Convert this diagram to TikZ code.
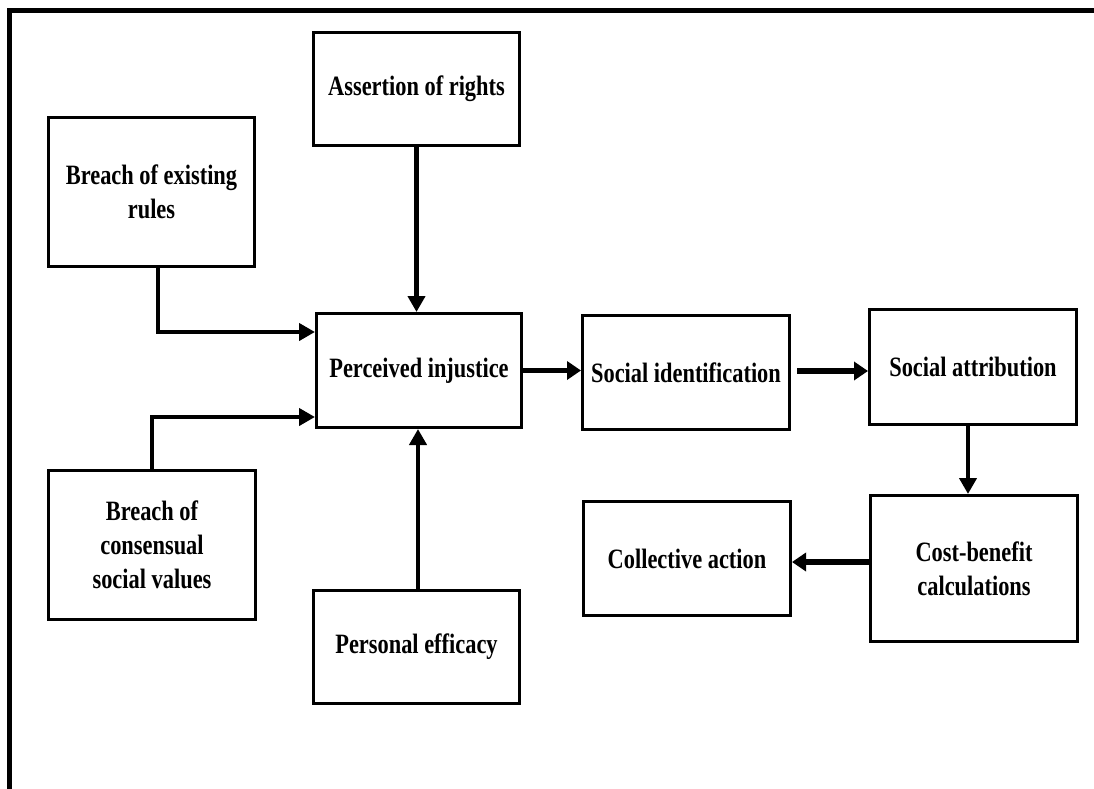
\documentclass[tikz,border=0pt]{standalone}
\usepackage{fontspec}
\setmainfont{Liberation Serif}[FakeStretch=0.8]
\usetikzlibrary{arrows.meta}

\tikzset{
  box/.style={draw=black, line width=3pt, rectangle, align=center,
    inner sep=0pt, font=\bfseries\fontsize{28}{34}\selectfont},
  thinarr/.style={draw=black, line width=4.5pt,
    -{Triangle[length=16pt,width=17pt]}},
  thickarr/.style={draw=black, line width=5.5pt,
    -{Triangle[length=14pt,width=18pt]}},
  frame/.style={draw=black, line width=5.5pt, line join=miter}
}

\begin{document}
\begin{tikzpicture}[x=1pt,y=-1pt]
  \useasboundingbox (0,0) rectangle (1094,789);

  % outer frame: top and left edges
  \draw[frame] (1094,10.5) -- (9.5,10.5) -- (9.5,789);

  % boxes
  \node[box, minimum width=206pt, minimum height=149pt] (rules) at (151.5,192)
    {Breach of existing\\rules};
  \node[box, minimum width=206pt, minimum height=113pt] (rights) at (416.5,89)
    {Assertion of rights};
  \node[box, minimum width=205pt, minimum height=114pt] (injustice) at (419,370.5)
    {Perceived injustice};
  \node[box, minimum width=207pt, minimum height=149pt] (values) at (152,545)
    {Breach of\\consensual\\social values};
  \node[box, minimum width=206pt, minimum height=113pt] (efficacy) at (416.5,647)
    {Personal efficacy};
  \node[box, minimum width=207pt, minimum height=114pt] (identification) at (686,372.5)
    {Social identification};
  \node[box, minimum width=207pt, minimum height=115pt] (attribution) at (973,367)
    {Social attribution};
  \node[box, minimum width=207pt, minimum height=146pt] (cost) at (974,568.5)
    {Cost-benefit\\calculations};
  \node[box, minimum width=207pt, minimum height=114pt] (collective) at (687,558.5)
    {Collective action};

  % connectors into the central box
  \draw[thinarr] ([xshift=6.5pt]rules.south) |- ([yshift=38.5pt]injustice.west);
  \draw[thinarr] (values.north) |- ([yshift=-46.5pt]injustice.west);
  \draw[thinarr] (rights.south) -- (rights.south |- injustice.north);
  \draw[thinarr] ([xshift=1.5pt]efficacy.north) -- ([xshift=1.5pt]efficacy.north |- injustice.south);

  % main chain
  \draw[thickarr] (injustice.east) -- (identification.west |- injustice.east);
  \coordinate (idout) at ([xshift=6pt]identification.east);
  \draw[thickarr] ([yshift=1.5pt]idout) -- ([yshift=1.5pt]idout -| attribution.west);
  \draw[thinarr] ([xshift=-5pt]attribution.south) -- ([xshift=-5pt]attribution.south |- cost.north);
  \draw[thickarr] ([yshift=6.5pt]cost.west) -- ([yshift=6.5pt]cost.west -| collective.east);
\end{tikzpicture}
\end{document}
